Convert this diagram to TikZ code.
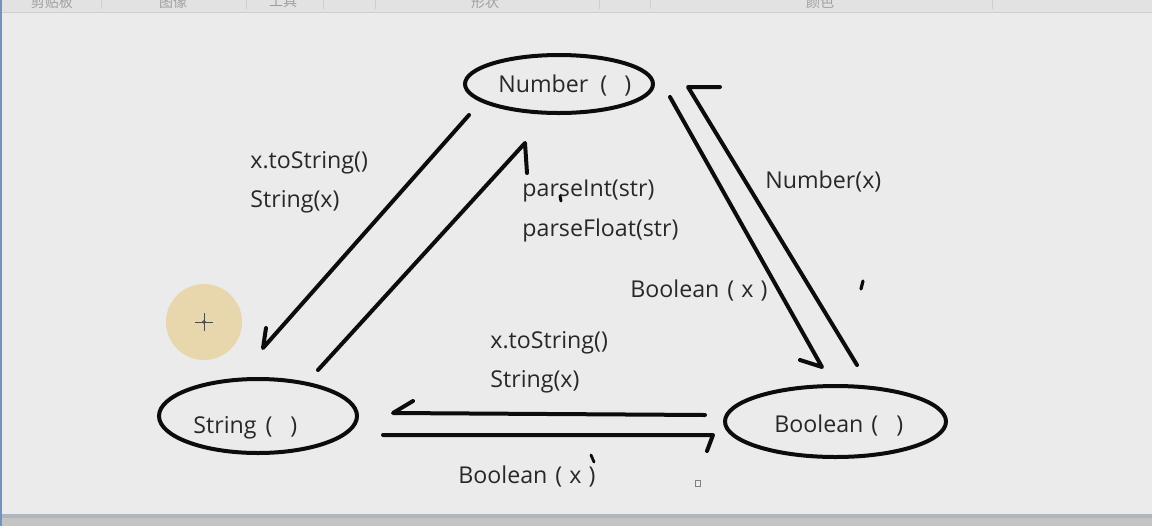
\documentclass[tikz,border=0pt]{standalone}
\usepackage{fontspec}
\newfontfamily\labelfont{Open Sans}
\newfontfamily\cjkfont{Noto Sans CJK SC}
\usetikzlibrary{shapes.geometric}
\definecolor{canvas}{RGB}{235,235,235}
\definecolor{ribbon}{RGB}{226,226,226}
\definecolor{ribbonline}{RGB}{206,206,206}
\definecolor{ribbontext}{RGB}{160,160,160}
\definecolor{statusbar}{RGB}{196,196,196}
\definecolor{shadowline}{RGB}{176,181,192}
\definecolor{winedge}{RGB}{111,148,191}
\definecolor{cursorhalo}{RGB}{232,214,172}
\definecolor{ink}{RGB}{12,12,12}
\definecolor{txt}{RGB}{40,40,40}

\begin{document}
\begin{tikzpicture}[x=0.5pt, y=-0.5pt,
    stroke/.style={draw=ink, line width=2pt, line cap=round, line join=round},
    typeobj/.style={ellipse, stroke, inner sep=0pt},
    lbl/.style={font=\labelfont\fontsize{11.6}{14}\selectfont, text=txt, inner sep=0pt, anchor=base west}]
  % window
  \fill[canvas] (0,0) rectangle (1152,526);
  \useasboundingbox (0,0) rectangle (1152,526);
  \begin{scope}
    \clip (0,0) rectangle (1152,12);
    \fill[ribbon] (0,0) rectangle (1152,12);
    \foreach \x in {101,246,323,375,599,650,992}
      \draw[ribbonline, line width=0.5pt] (\x,0) -- (\x,9);
    \foreach \x/\t [count=\i] in {52/剪贴板, 173/图像, 283/工具, 485/形状, 820/颜色}
      \node[font=\cjkfont\fontsize{7}{8}\selectfont, text=ribbontext] (tab\i) at (\x,2) {\t};
  \end{scope}
  \draw[ribbonline, line width=0.6pt] (0,12.5) -- (1152,12.5);
  \fill[shadowline] (0,514) rectangle (1152,518);
  \fill[statusbar] (0,518) rectangle (1152,526);
  \fill[winedge] (0,0) rectangle (2,526);
  % cursor
  \fill[cursorhalo] (204,322) circle (38);
  \draw[black!70, line width=0.4pt] (195,322) -- (213,322) (204,313) -- (204,331);
  \draw[black!70, line width=0.4pt] (204,322) circle (1.5);
  % types
  \node[typeobj, minimum width=94pt, minimum height=29pt] (num) at (559,84) {};
  \node[typeobj, minimum width=99pt, minimum height=37pt] (str) at (258,416) {};
  \node[typeobj, minimum width=110.5pt, minimum height=35.5pt] (bool) at (835.5,421.5) {};
  \node[lbl] (numname) at (498,92) {Number\hspace{6pt}(\hspace{8.5pt})};
  \node[lbl] (strname) at (193,433) {String\hspace{4.5pt}(\hspace{9pt})};
  \node[lbl] (boolname) at (774,432) {Boolean\hspace{4pt}(\hspace{9pt})};
  % conversion labels
  \foreach \n/\x/\y/\t in {ns1/250/168/{x.toString()}, ns2/250/207/{String(x)},
      sn1/522/196/{parseInt(str)}, sn2/522/236/{parseFloat(str)},
      bn/765/188/{Number(x)}, nb/630/297/{Boolean\hspace{4pt}(\hspace{3.5pt}x\hspace{3.5pt})},
      bs1/490/348/{x.toString()}, bs2/490/387/{String(x)},
      sb/458/483/{Boolean\hspace{4pt}(\hspace{3.5pt}x\hspace{3.5pt})}}
    \node[lbl] (\n) at (\x,\y) {\t};
  % conversions
  \foreach \n/\sx/\sy/\tx/\ty/\bx/\by in {
      ns/469/115/263/348/3/-20,
      sn/318/370/525/143/2/30,
      nb/670/97/822/367/-22/-7,
      bn/857/365/688/87/32/0,
      bs/705/415/393/413/20/-12,
      sb/383/435/713/435/-6/16} {
    \coordinate (\n-from) at (\sx,\sy);
    \coordinate (\n-to) at (\tx,\ty);
    \draw[stroke] (\n-from) -- (\n-to) -- ++(\bx,\by);
  }
  % stray marks
  \draw[stroke, line width=1.5pt] (560,196) -- (561,201);
  \draw[stroke, line width=1.6pt] (861,289) -- (863,281);
  \draw[stroke, line width=1.4pt] (591,455) -- (594,462);
  \draw[black!50, line width=0.5pt] (695,480) rectangle (700,486);
\end{tikzpicture}
\end{document}
